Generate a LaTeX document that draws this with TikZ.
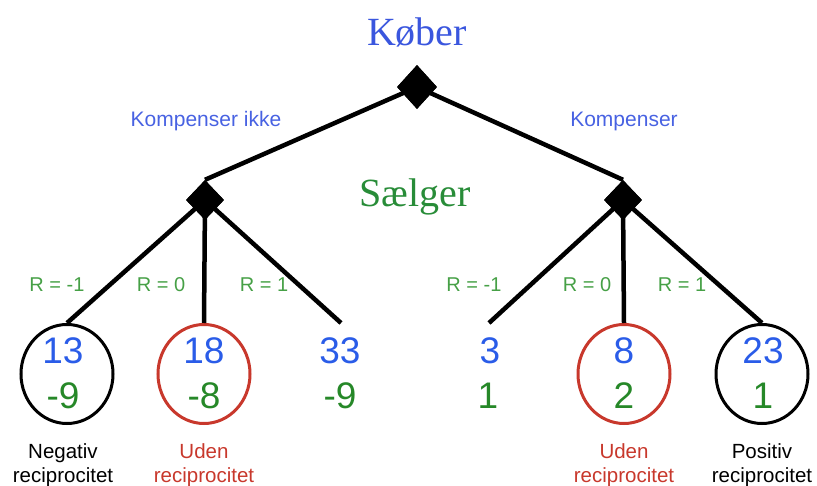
\documentclass[tikz,border=0pt]{standalone}
\usepackage{fontspec}
\setmainfont{Liberation Sans}
\newfontfamily\titlefont{Liberation Serif}
\usetikzlibrary{shapes.geometric}

\definecolor{kblue}{RGB}{58,86,222}
\definecolor{sgreen}{RGB}{40,140,56}
\definecolor{numblue}{RGB}{42,92,232}
\definecolor{numgreen}{RGB}{38,136,40}
\definecolor{lblue}{RGB}{72,98,226}
\definecolor{rgreen}{RGB}{70,160,70}
\definecolor{ured}{RGB}{200,56,44}

\tikzset{
  edge/.style={line width=4.5pt, black},
  choice/.style={diamond, fill=black, inner sep=0pt},
  leaf/.style={ellipse, minimum width=92pt, minimum height=99pt, inner sep=0pt, line width=3pt},
  player/.style={font=\titlefont\fontsize{40}{44}\selectfont, inner sep=0pt},
  num/.style={font=\fontsize{37}{40}\selectfont, inner sep=0pt, anchor=base},
  move/.style={font=\fontsize{21}{24}\selectfont, text=lblue, inner sep=0pt, anchor=base},
  rlabel/.style={font=\fontsize{20}{22}\selectfont, text=rgreen, inner sep=0pt, anchor=base},
  note/.style={font=\fontsize{20.5}{24}\selectfont, inner sep=0pt, anchor=base},
}

\begin{document}
\begin{tikzpicture}[x=1pt, y=-1pt]
\useasboundingbox (0,0) rectangle (817,486);

% players
\node[player, text=kblue] (kober) at (417,32) {Køber};
\node[player, text=sgreen] (saelger) at (415,197) {Sælger};

% decision nodes
\node[choice, minimum width=40pt, minimum height=44pt] (root) at (417,87) {};
\node[choice, minimum width=38pt, minimum height=40pt] (dl) at (205,200) {};
\node[choice, minimum width=38pt, minimum height=40pt] (dr) at (623,200) {};

% outcomes
\node[leaf, draw=black] (o1) at (67,374) {};
\node[leaf, draw=ured]  (o2) at (204,374) {};
\node[leaf]             (o3) at (341,374) {};
\node[leaf]             (o4) at (489,374) {};
\node[leaf, draw=ured]  (o5) at (624,374) {};
\node[leaf, draw=black] (o6) at (762,374) {};

% branches
\draw[edge] (root.center) -- (dl.north);
\draw[edge] (root.center) -- (dr.north);
\draw[edge] (dl.center) -- (o1.north);
\draw[edge] (dl.center) -- (o2.north);
\draw[edge] (dl.center) -- (o3.north);
\draw[edge] (dr.center) -- (o4.north);
\draw[edge] (dr.center) -- (o5.north);
\draw[edge] (dr.center) -- (o6.north);

% redraw diamonds above the branch lines
\node[choice, minimum width=40pt, minimum height=44pt] at (root.center) {};
\node[choice, minimum width=38pt, minimum height=40pt] at (dl.center) {};
\node[choice, minimum width=38pt, minimum height=40pt] at (dr.center) {};

% move labels
\node[move] (mk) at (206,127) {Kompenser ikke};
\node[move] (mc) at (624,127) {Kompenser};

\node[rlabel] (r1) at (57,292) {R = -1};
\node[rlabel] (r2) at (161,292) {R = 0};
\node[rlabel] (r3) at (264,292) {R = 1};
\node[rlabel] (r4) at (474,292) {R = -1};
\node[rlabel] (r5) at (587,292) {R = 0};
\node[rlabel] (r6) at (682,292) {R = 1};

% payoffs
\node[num, text=numblue]  (p1a) at (63,364) {13};
\node[num, text=numgreen] (p1b) at (63,409) {-9};
\node[num, text=numblue]  (p2a) at (204,364) {18};
\node[num, text=numgreen] (p2b) at (204,409) {-8};
\node[num, text=numblue]  (p3a) at (340,364) {33};
\node[num, text=numgreen] (p3b) at (340,409) {-9};
\node[num, text=numblue]  (p4a) at (490,364) {3};
\node[num, text=numgreen] (p4b) at (488,409) {1};
\node[num, text=numblue]  (p5a) at (624,364) {8};
\node[num, text=numgreen] (p5b) at (624,409) {2};
\node[num, text=numblue]  (p6a) at (763,364) {23};
\node[num, text=numgreen] (p6b) at (763,409) {1};

% reciprocity notes
\node[note] (n1a) at (63,458) {Negativ};
\node[note] (n1b) at (63,482) {reciprocitet};
\node[note, text=ured] (n2a) at (204,458) {Uden};
\node[note, text=ured] (n2b) at (204,482) {reciprocitet};
\node[note, text=ured] (n5a) at (624,458) {Uden};
\node[note, text=ured] (n5b) at (624,482) {reciprocitet};
\node[note] (n6a) at (762,458) {Positiv};
\node[note] (n6b) at (762,482) {reciprocitet};
\end{tikzpicture}
\end{document}
